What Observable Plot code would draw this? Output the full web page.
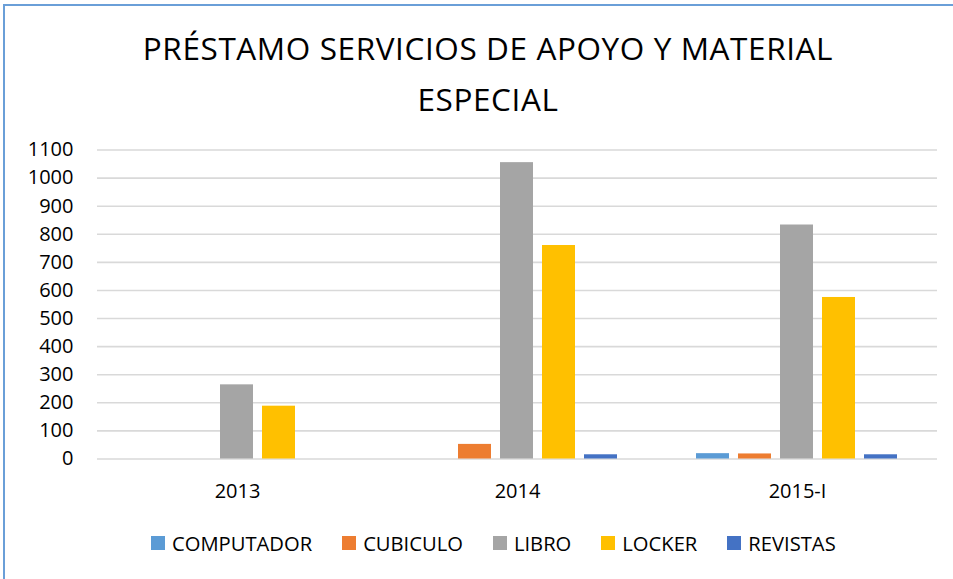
<!DOCTYPE html>
<html>
<head>
<meta charset="utf-8">
<script src="https://cdn.jsdelivr.net/npm/d3@7"></script>
<script src="https://cdn.jsdelivr.net/npm/@observablehq/plot@0.6"></script>
<style>
  html, body { margin: 0; padding: 0; background: #fff; }
  #wrap { position: relative; width: 953px; height: 579px; overflow: hidden; font-family: "Open Sans", sans-serif; color: #000; }
  #bt { position: absolute; left: 3px; top: 4px; width: 960px; height: 2px; background: #6a9fd8; }
  #bl { position: absolute; left: 3px; top: 4px; width: 2px; height: 600px; background: #6a9fd8; }
  #title { position: absolute; left: 0; top: 22px; width: 976px; text-align: center; font-size: 31.5px; letter-spacing: 0.6px; line-height: 51px; font-weight: 400; }
  #chart { position: absolute; left: 0; top: 120px; }
  #legend { position: absolute; left: 151px; top: 530px; display: flex; align-items: center; font-size: 20.2px; line-height: 26px; }
  .item { display: flex; align-items: center; margin-right: 30px; }
  .sw { width: 14px; height: 14px; margin-right: 7px; }
</style>
</head>
<body>
<div id="wrap">
  <div id="bt"></div><div id="bl"></div>
  <div id="title">PRÉSTAMO SERVICIOS DE APOYO Y MATERIAL<br>ESPECIAL</div>
  <div id="chart"></div>
  <div id="legend"></div>
</div>
<script>
const years = ["2013", "2014", "2015-I"];
const series = ["COMPUTADOR", "CUBICULO", "LIBRO", "LOCKER", "REVISTAS"];
const colors = ["#5B9BD5", "#ED7D31", "#A5A5A5", "#FFC000", "#4472C4"];
const computador = [0, 0, 19];
const cubiculo = [0, 52, 18];
const libro = [264, 1055, 833];
const locker = [188, 760, 575];
const revistas = [0, 15, 15];
const yTicks = [0, 100, 200, 300, 400, 500, 600, 700, 800, 900, 1000, 1100];

const valuesBySeries = [computador, cubiculo, libro, locker, revistas];
const data = [];
years.forEach((yr, i) => {
  series.forEach((s, j) => {
    const v = valuesBySeries[j][i];
    if (v > 0) data.push({year: yr, serie: s, value: v});
  });
});

const chart = Plot.plot({
  width: 953,
  height: 400,
  marginLeft: 96,
  marginRight: 15.5,
  marginTop: 29.5,
  marginBottom: 61.5,
  style: {fontFamily: "'Open Sans', sans-serif", fontSize: "20px", color: "#000", background: "transparent", overflow: "visible"},
  fx: {domain: years, padding: 0, label: null, tickSize: 0, tickPadding: 24.5},
  x: {domain: series, paddingInner: 0.21, paddingOuter: 0.867, axis: null},
  y: {domain: [0, 1100], ticks: yTicks, tickSize: 0, tickPadding: 24, label: null, tickFormat: d => String(d)},
  color: {domain: series, range: colors},
  marks: [
    Plot.gridY(yTicks, {stroke: "#d9d9d9", strokeOpacity: 1, strokeWidth: 1.6}),
    Plot.barY(data, {fx: "year", x: "serie", y: "value", fill: "serie"})
  ]
});
document.getElementById("chart").appendChild(chart);

const legend = document.getElementById("legend");
series.forEach((s, j) => {
  const it = document.createElement("div");
  it.className = "item";
  const sw = document.createElement("div");
  sw.className = "sw";
  sw.style.background = colors[j];
  const t = document.createElement("span");
  t.textContent = s;
  it.appendChild(sw); it.appendChild(t);
  legend.appendChild(it);
});
</script>
</body>
</html>
